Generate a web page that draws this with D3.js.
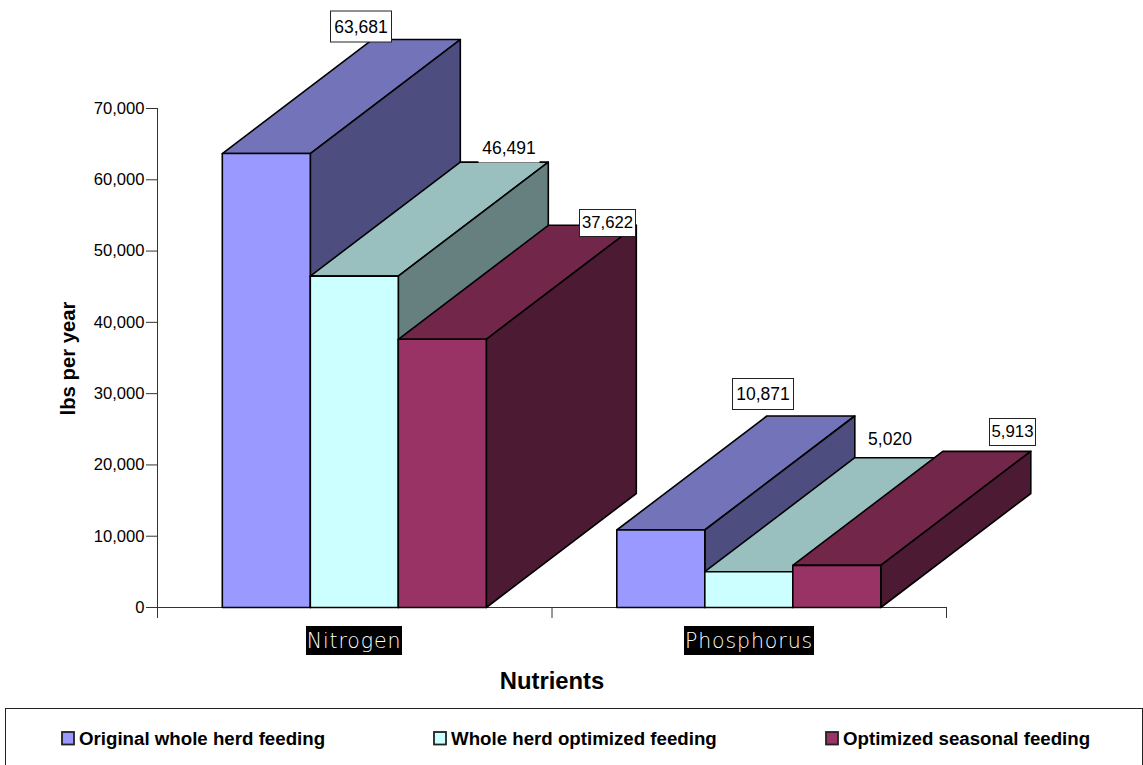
<!DOCTYPE html>
<html><head><meta charset="utf-8">
<script src="https://cdn.jsdelivr.net/npm/d3@7"></script>
<style>html,body{margin:0;padding:0;background:#fff}svg{display:block}text{font-family:"Liberation Sans",Arial,sans-serif;fill:#000}</style>
</head><body><svg id="c" width="1143" height="765"></svg>
<script>
const categories = ["Nitrogen","Phosphorus"];
const seriesNames = ["Original whole herd feeding","Whole herd optimized feeding","Optimized seasonal feeding"];
const nitrogenValues = [63681,46491,37622];
const phosphorusValues = [10871,5020,5913];
const yTicks = [0,10000,20000,30000,40000,50000,60000,70000];
const frontColors = ["#9999ff","#ccffff","#993366"];
const topColors = ["#7373b9","#99bfbf","#722649"];
const sideColors = ["#4d4d80","#668080","#4d1a33"];

const svg = d3.select("#c");
const y = d3.scaleLinear().domain([0,70000]).range([607.5,108.5]);
const x0 = d3.scaleBand().domain(categories).range([157,946]);
const x1 = d3.scaleBand().domain(seriesNames).range([65,329]);
const depthX = 150, depthY = 114;
const fmt = d3.format(",");
const table = [nitrogenValues, phosphorusValues];

// axes
svg.append("g").attr("transform","translate(157,0)").call(g=>{
  g.append("line").attr("x1",.5).attr("x2",.5).attr("y1",108).attr("y2",618).attr("stroke","#333");
  g.selectAll("g").data(yTicks).join("g").each(function(d){
    const t=d3.select(this);
    t.append("line").attr("x1",-11).attr("x2",0).attr("y1",y(d)).attr("y2",y(d)).attr("stroke","#333");
    t.append("text").attr("x",-12.5).attr("y",y(d)-.5).attr("dy","0.35em").attr("text-anchor","end").attr("font-size",16.6).text(fmt(d));
  });
});
const gx = svg.append("g");
gx.append("line").attr("x1",157).attr("x2",946).attr("y1",607.5).attr("y2",607.5).attr("stroke","#333");
[157,x0.bandwidth()+157,946].forEach(px=>gx.append("line").attr("x1",px+.5).attr("x2",px+.5).attr("y1",607).attr("y2",618).attr("stroke","#333"));

// bars
categories.forEach((c,ci)=>{
  seriesNames.forEach((s,si)=>{
    const v = table[ci][si];
    const l = x0(c)+x1(s)+.3, r = l+x1.bandwidth(), t=y(v), b=y(0);
    const g = svg.append("g").attr("stroke","#000").attr("stroke-width",1.6).attr("stroke-linejoin","round");
    const poly=(pts,f)=>g.append("polygon").attr("points",pts.map(p=>p.join(",")).join(" ")).attr("fill",f);
    poly([[l,t],[r,t],[r+depthX,t-depthY],[l+depthX,t-depthY]],topColors[si]);
    poly([[r,t],[r+depthX,t-depthY],[r+depthX,b-depthY],[r,b]],sideColors[si]);
    poly([[l,t],[r,t],[r,b],[l,b]],frontColors[si]);
  });
});

// value labels
const labelValues = [63681,46491,37622,10871,5020,5913];
const labelBoxes = [
 {x:330,y:10.5,w:62,h:32,fs:17.5,b:1,ty:26.5},
 {x:478,y:136,w:62,h:27,fs:17.5,b:0,ty:148},
 {x:579,y:209,w:57,h:28,fs:16.7,b:1,ty:222},
 {x:732,y:378,w:62,h:32,fs:17.5,b:1,ty:394},
 {x:860,y:424,w:58,h:30,fs:17.5,nofill:1,b:0,ty:439},
 {x:989,y:418,w:47,h:28,fs:16.8,b:1,ty:431.5}
];
labelValues.forEach((v,i)=>{
  const b=labelBoxes[i];
  if(!b.nofill) svg.append("rect").attr("x",b.x+.5).attr("y",b.y+.5).attr("width",b.w-1).attr("height",b.h-1).attr("fill","#fff").attr("stroke",b.b?"#222":"none");
  svg.append("text").attr("x",b.x+b.w/2+(i==4?1:0)).attr("y",b.ty).attr("dy","0.35em").attr("text-anchor","middle").attr("font-size",b.fs).text(fmt(v));
});

// category labels
const catBoxes=[{x:306,w:96},{x:684,w:130}];
categories.forEach((c,i)=>{
  svg.append("rect").attr("x",catBoxes[i].x).attr("y",626).attr("width",catBoxes[i].w).attr("height",29).attr("fill","#000");
  svg.append("text").attr("x",catBoxes[i].x+catBoxes[i].w/2).attr("y",640.5).attr("dy","0.35em").attr("text-anchor","middle").attr("font-size",20.5).attr("letter-spacing",0.9).style("font-family","'DejaVu Sans'").style("font-weight","200").style("fill","#fff").text(c);
});

// titles
svg.append("text").attr("x",552).attr("y",681).attr("dy","0.35em").attr("text-anchor","middle").attr("font-size",23.8).attr("font-weight","bold").text("Nutrients");
svg.append("text").attr("transform","translate(68,358.5) rotate(-90)").attr("dy","0.35em").attr("text-anchor","middle").attr("font-size",20.3).attr("font-weight","bold").text("lbs per year");

// legend
svg.append("rect").attr("x",5.5).attr("y",708.5).attr("width",1137).attr("height",60).attr("fill","#fff").attr("stroke","#222");
const legX=[62,434,826];
seriesNames.forEach((s,i)=>{
  svg.append("rect").attr("x",legX[i]).attr("y",732).attr("width",12).attr("height",12.5).attr("fill",frontColors[i]).attr("stroke","#222").attr("stroke-width",1.8);
  svg.append("text").attr("x",legX[i]+17).attr("y",738.5).attr("dy","0.35em").attr("font-size",18.7).attr("font-weight","bold").text(s);
});
</script></body></html>
